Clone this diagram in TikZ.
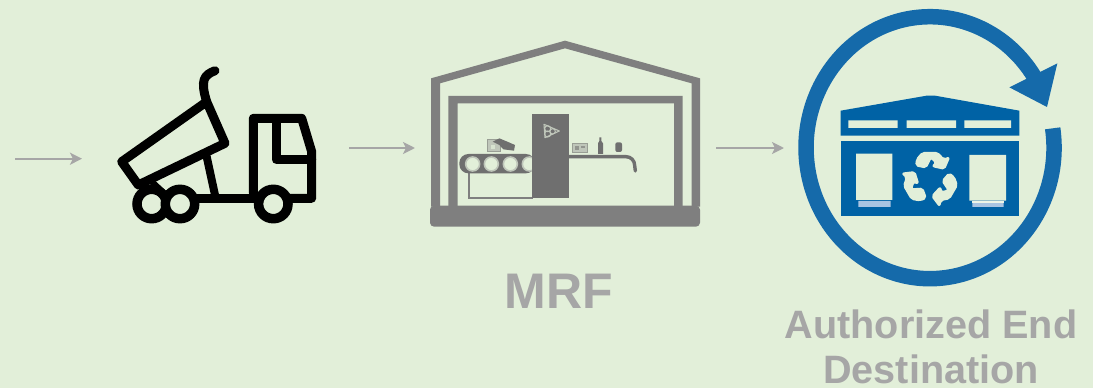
\documentclass[tikz,border=0pt]{standalone}
\usepackage{fontspec}
\setmainfont{Liberation Sans}
\usetikzlibrary{arrows.meta}
\definecolor{bgc}{HTML}{E2EFD9}
\definecolor{txtc}{HTML}{A6A6A6}
\definecolor{arrc}{HTML}{A6A6A6}
\definecolor{grayc}{HTML}{7F7F7F}
\definecolor{towerc}{HTML}{6F6F6F}
\definecolor{itemc}{HTML}{BFC6BA}
\definecolor{ringc}{HTML}{156AAA}
\definecolor{bldc}{HTML}{0062A5}
\definecolor{stripc}{HTML}{A9C4E2}
\tikzset{
  flowarrow/.style={draw=arrc,line width=2.4pt,-{Stealth[length=12pt,width=12pt,inset=3pt]}},
  truckline/.style={draw=black,line width=9pt,line join=round,line cap=round},
  wheelring/.style={draw=black,line width=9.5pt,fill=bgc},
  zoomed/.style={xscale=1/3,yscale=1/3},
  bigtext/.style={font=\bfseries,text=txtc,inner sep=0pt,anchor=base}
}
\begin{document}
\begin{tikzpicture}[x=1pt,y=-1pt]
\fill[bgc] (0,0) rectangle (1093,388);
\useasboundingbox (0,0) rectangle (1093,388);
% connectors
\coordinate (a1s) at (15,158.7); \coordinate (a1e) at (82,158.7);
\coordinate (a2s) at (349,148); \coordinate (a2e) at (415,148);
\coordinate (a3s) at (716,148); \coordinate (a3e) at (784,148);
\draw[flowarrow] (a1s) -- (a1e);
\draw[flowarrow] (a2s) -- (a2e);
\draw[flowarrow] (a3s) -- (a3e);
% truck
\draw[truckline] (121.7,161.7) -- (206.7,101.7) -- (225,143.3) -- (138.3,185) -- cycle;
\draw[truckline] (206.7,101.7) .. controls (200,80) and (204,75) .. (215,70.7);
\draw[truckline,line width=8pt] (206.7,156.7) -- (215,195);
\draw[truckline] (196.7,198.3) -- (256.7,198.3);
\draw[truckline] (253.3,193) -- (253.3,118.3) -- (301.7,118.3) -- (311.7,151.7) -- (311.7,198.3) -- (288,198.3);
\draw[truckline] (276,120) -- (276,159.3) -- (311.7,159.3);
\draw[truckline,line width=6pt] (150,180) -- (165,194);
\draw[wheelring] (151.7,204) circle (14.7);
\draw[wheelring] (180,204) circle (14.7);
\draw[wheelring] (273.3,204) circle (14.7);
% MRF building
\begin{scope}[shift={(420,30)},zoomed]
\fill[grayc] (33,145) -- (435,32) -- (840,145) -- (840,530) -- (815,530) -- (815,160) -- (435,55) -- (60,160) -- (60,530) -- (33,530) -- cycle;
\fill[grayc,even odd rule] (85,198) rectangle (788,530) (113,220) rectangle (762,530);
\fill[grayc,rounded corners=4pt] (30,527) rectangle (840,590);
\draw[grayc,line width=2.2pt] (148,428) -- (148,503) -- (340,503);
\fill[towerc] (337,253) rectangle (447,505);
\fill[towerc,rounded corners=9pt] (118,372) rectangle (345,430);
\foreach \cx in {158,214,271} \draw[draw=itemc,line width=1.6pt,fill=bgc] (\cx,402) circle (21);
\begin{scope}
\clip (290,372) rectangle (337,430);
\draw[draw=itemc,line width=1.6pt,fill=bgc] (328,402) circle (21);
\end{scope}
\fill[towerc] (337,372) rectangle (447,430);
\draw[towerc,line width=3.4pt,line cap=round] (447,380) -- (618,380) arc[start angle=-90,end angle=0,radius=26] -- (646,423);
% recycling mark on tower
\draw[draw=itemc,line width=1.1pt,line join=round] (372,283) -- (418,303) -- (375,323) -- cycle;
\draw[draw=itemc,line width=1pt] (383,296) circle (9) (383,312) circle (9) (398,304) circle (8);
% items
\fill[towerc] (534,372) -- (534,340) -- (538,333) -- (538,322) -- (544,322) -- (544,333) -- (549,340) -- (549,372) -- cycle;
\fill[towerc,rounded corners=2pt] (586,337) rectangle (606,366);
\draw[draw=itemc!80!black,fill=itemc,line width=1pt] (456,340) rectangle (501,367);
\fill[towerc!70!bgc] (464,347) rectangle (476,360);
\fill[towerc!70!bgc] (482,347) rectangle (494,353);
\draw[draw=itemc!80!black,fill=itemc,line width=1pt] (201,329) rectangle (240,364);
\fill[towerc] (218,335) -- (238,325) -- (262,335) -- (285,345) -- (282,362) -- (250,358) -- (238,345) -- cycle;
\fill[bgc!70!itemc] (212,345) rectangle (226,358);
\end{scope}
% blue ring and building
\begin{scope}[shift={(790,0)},zoomed]
\draw[ringc,line width=15.5pt] (788,385) arc[start angle=-8.5,end angle=327,x radius=372,y radius=393];
\fill[ringc,line join=round] (802,190) -- (771,321) -- (658,262) -- cycle;
\fill[bldc] (152,332) -- (410,287) -- (435,287) -- (688,332) -- (688,407) -- (152,407) -- cycle;
\fill[bgc] (175,361) rectangle (323,384) (350,361) rectangle (498,384) (523,361) rectangle (663,384);
\fill[bldc] (152,422) rectangle (688,648);
\fill[bgc] (198,461) rectangle (307,600) (538,465) rectangle (648,602);
\fill[stripc] (205,603) rectangle (302,621) (547,603) rectangle (641,621);
\fill[bgc!60!white] (547,603) rectangle (641,608);
\foreach \rr in {0,120,240}
\filldraw[draw=bgc,line width=1.6pt,line join=round,fill=bgc,rotate around={\rr:(421,537)},rounded corners=2pt] (378,497) -- (380,478) -- (397,458) -- (443,458) -- (461,478) -- (478,472) -- (463,507) -- (427,499) -- (438,488) -- (423,473) -- (408,503) -- cycle;
\end{scope}
% labels
\node[bigtext,font=\bfseries\fontsize{50}{50}\selectfont] (mrf) at (559,308) {MRF};
\node[bigtext,font=\bfseries\fontsize{39.6}{40}\selectfont] (dest1) at (931,338) {Authorized End};
\node[bigtext,font=\bfseries\fontsize{39.6}{40}\selectfont] (dest2) at (931,383) {Destination};
\end{tikzpicture}
\end{document}
